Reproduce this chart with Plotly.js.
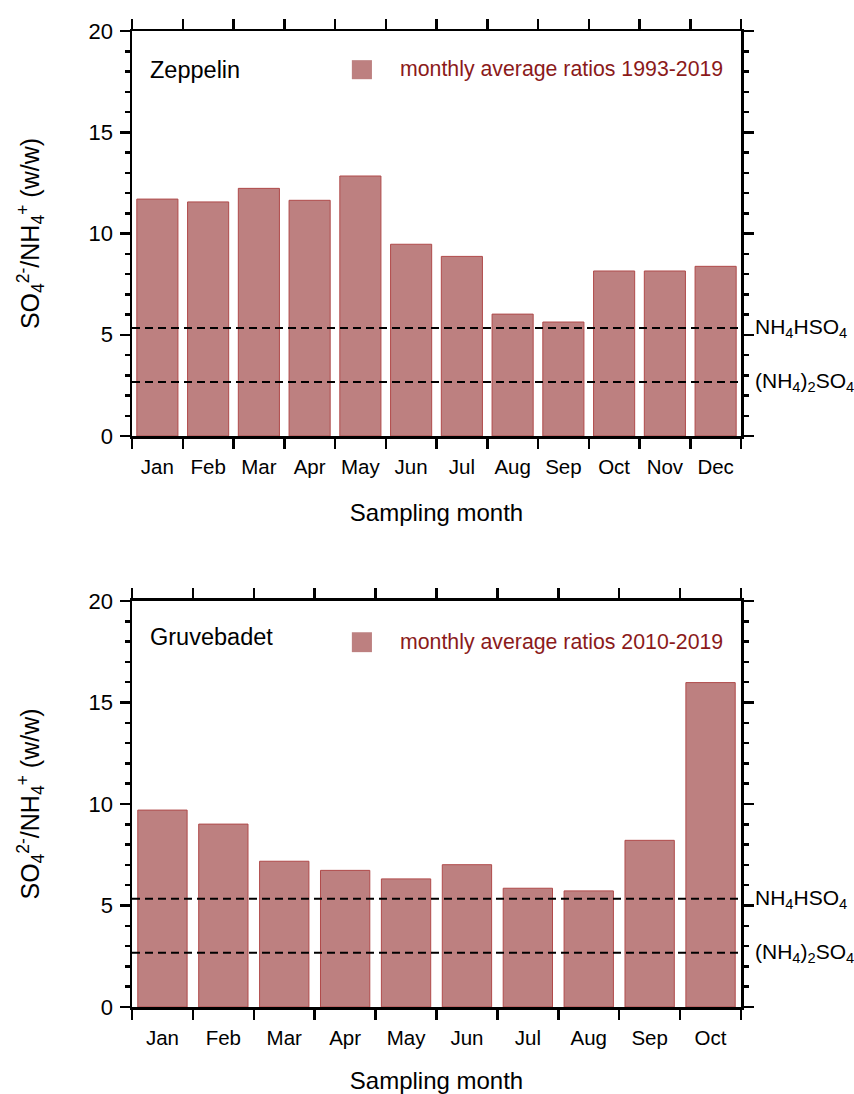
<!DOCTYPE html>
<html>
<head>
<meta charset="utf-8">
<script src="https://cdn.plot.ly/plotly-3.0.1.min.js"></script>
<style>html,body{margin:0;padding:0;background:#fff;}#chart{width:854px;height:1094px;}</style>
</head>
<body>
<div id="chart"></div>
<script>
// ---- data ----
const zeppelinMonths = ["Jan","Feb","Mar","Apr","May","Jun","Jul","Aug","Sep","Oct","Nov","Dec"];
const zeppelinRatios = [11.70, 11.56, 12.23, 11.64, 12.84, 9.47, 8.87, 6.02, 5.63, 8.15, 8.15, 8.38];
const gruvebadetMonths = ["Jan","Feb","Mar","Apr","May","Jun","Jul","Aug","Sep","Oct"];
const gruvebadetRatios = [9.70, 9.01, 7.18, 6.73, 6.31, 7.01, 5.85, 5.72, 8.21, 15.98];
const referenceRatios = [5.33, 2.67];   // NH4HSO4, (NH4)2SO4
const referenceLabels = ["NH<sub>4</sub>HSO<sub>4</sub>", "(NH<sub>4</sub>)<sub>2</sub>SO<sub>4</sub>"];
const stationNames = ["Zeppelin", "Gruvebadet"];
const legendTexts = ["monthly average ratios 1993-2019", "monthly average ratios 2010-2019"];
const yTitle = "SO<sub>4</sub><sup>2-</sup>/NH<sub>4</sub><sup>+</sup> (w/w)";
const xTitle = "Sampling month";

// ---- styles ----
const FONT = "Liberation Sans, Arial, sans-serif";
const barFill = "#bd8080";
const barEdge = "#b04a4a";
const legendColor = "#8b1a1a";

const traces = [
  {type:"bar", x: zeppelinMonths, y: zeppelinRatios, xaxis:"x", yaxis:"y", width:0.81,
   marker:{color:barFill, line:{color:barEdge, width:1}}, showlegend:false, hoverinfo:"x+y"},
  {type:"bar", x: gruvebadetMonths, y: gruvebadetRatios, xaxis:"x2", yaxis:"y2", width:0.81,
   marker:{color:barFill, line:{color:barEdge, width:1}}, showlegend:false, hoverinfo:"x+y"}
];

function xAxis(anchor, n){
  return {anchor: anchor, domain:[0,1], type:"category", range:[-0.5, n-0.5],
    tickson:"boundaries", ticks:"outside", ticklen:10, tickwidth:2.5, tickcolor:"#000",
    showline:true, linewidth:2.5, linecolor:"#000", mirror:"allticks",
    showgrid:false, zeroline:false, ticklabelstandoff:11,
    tickfont:{family:FONT, size:20.5, color:"#000"},
    title:{text:xTitle, font:{family:FONT, size:24, color:"#000"}, standoff:27}};
}
function yAxis(anchor, domain){
  return {anchor: anchor, domain: domain, range:[0,20], dtick:5, tick0:0,
    ticks:"outside", ticklen:10, tickwidth:2.5, tickcolor:"#000",
    minor:{dtick:1, ticks:"outside", ticklen:5, tickwidth:2.5, tickcolor:"#000", showgrid:false},
    showline:true, linewidth:2.5, linecolor:"#000", mirror:"allticks",
    showgrid:false, zeroline:false, ticklabelstandoff:2,
    tickfont:{family:FONT, size:22, color:"#000"},
    title:{text:yTitle, font:{family:FONT, size:25, color:"#000"}, standoff:42}};
}

const shapes = [];
const annotations = [];
const panels = [
  {xr:"x", yr:"y", name: stationNames[0], legend: legendTexts[0], nameY:0.904, sqY:[0.881,0.928], legY:0.905},
  {xr:"x2", yr:"y2", name: stationNames[1], legend: legendTexts[1], nameY:0.911, sqY:[0.874,0.923], legY:0.898}
];
panels.forEach(p => {
  referenceRatios.forEach((v, i) => {
    shapes.push({type:"line", xref: p.xr+" domain", yref: p.yr, x0:0, x1:1, y0:v, y1:v,
      line:{color:"#000", width:2, dash:"8px,5px"}});
    annotations.push({xref: p.xr+" domain", yref: p.yr, x:1.02, y:v, xanchor:"left", yanchor:"middle",
      text: referenceLabels[i], showarrow:false, font:{family:FONT, size:21, color:"#000"}});
  });
  shapes.push({type:"rect", xref: p.xr+" domain", yref: p.yr+" domain", x0:0.361, x1:0.394,
    y0:p.sqY[0], y1:p.sqY[1], fillcolor:barFill, line:{width:0}});
  annotations.push({xref: p.xr+" domain", yref: p.yr+" domain", x:0.437, y:p.legY, xanchor:"left", yanchor:"middle",
    text: p.legend, showarrow:false, font:{family:FONT, size:21.3, color:legendColor}});
  annotations.push({xref: p.xr+" domain", yref: p.yr+" domain", x:0.026, y:p.nameY, xanchor:"left", yanchor:"middle",
    text: p.name, showarrow:false, font:{family:FONT, size:23.5, color:"#000"}});
});

const layout = {
  width:854, height:1094,
  margin:{l:132, r:113, t:31, b:87},
  paper_bgcolor:"#fff", plot_bgcolor:"#fff",
  font:{family:FONT, color:"#000"},
  xaxis: xAxis("y", zeppelinMonths.length),
  yaxis: yAxis("x", [0.585, 1]),
  xaxis2: xAxis("y2", gruvebadetMonths.length),
  yaxis2: yAxis("x2", [0, 0.416]),
  bargap:0.19,
  shapes: shapes,
  annotations: annotations,
  showlegend:false
};

Plotly.newPlot("chart", traces, layout, {displayModeBar:false, staticPlot:true});
</script>
</body>
</html>
